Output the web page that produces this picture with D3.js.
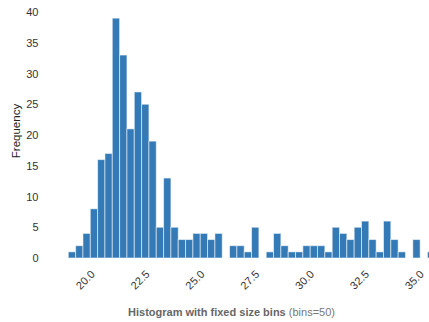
<!DOCTYPE html>
<html>
<head>
<meta charset="utf-8">
<script src="https://cdn.jsdelivr.net/npm/d3@7"></script>
<style>
  html, body { margin: 0; padding: 0; background: #fff; overflow: hidden; }
  svg { display: block; font-family: Arial, "Liberation Sans", Helvetica, sans-serif; }
</style>
</head>
<body>
<svg id="chart" width="429" height="322"></svg>
<script>
// ---- data ----
const binMin = 18.78;
const binMax = 35.49;
const counts = [1, 2, 4, 8, 16, 17, 39, 33, 21, 27, 25, 19, 5, 13, 5, 3, 3, 4, 4, 3,
                4, 0, 2, 2, 1, 5, 0, 1, 4, 2, 1, 1, 2, 2, 2, 1, 5, 4, 3, 5,
                6, 3, 1, 6, 3, 1, 0, 3, 0, 1];
const xTicks = [20.0, 22.5, 25.0, 27.5, 30.0, 32.5, 35.0];
const yTicks = [0, 5, 10, 15, 20, 25, 30, 35, 40];
const yLabel = "Frequency";
const titleBold = "Histogram with fixed size bins";
const titleNormal = " (bins=50)";

// ---- build bins ----
const step = (binMax - binMin) / counts.length;
const bins = counts.map((c, i) => ({ x0: binMin + i * step, x1: binMin + (i + 1) * step, count: c }));

const svg = d3.select("#chart");
const x = d3.scaleLinear().domain([binMin, binMax]).range([68.3, 434.8]);
const y = d3.scaleLinear().domain([0, 40]).range([258, 12]);

// bars
svg.append("g")
  .selectAll("rect")
  .data(bins.filter(d => d.count > 0))
  .join("rect")
  .attr("x", d => x(d.x0))
  .attr("width", d => x(d.x1) - x(d.x0))
  .attr("y", d => y(d.count))
  .attr("height", d => y(0) - y(d.count))
  .attr("fill", "#337ab7")
  .attr("stroke", "#ffffff")
  .attr("stroke-opacity", 0.55)
  .attr("stroke-width", 1);

// x axis
const gx = svg.append("g")
  .attr("transform", "translate(0,258)")
  .call(d3.axisBottom(x).tickValues(xTicks).tickFormat(d3.format(".1f")).tickSize(0));
gx.select(".domain").remove();
gx.selectAll("text")
  .attr("x", 0).attr("y", 0).attr("dy", 0)
  .attr("transform", "translate(0,17) rotate(-45)")
  .attr("text-anchor", "end")
  .attr("fill", "#333")
  .style("font-size", "11px")
  .style("font-family", "Arial, 'Liberation Sans', sans-serif");

// y axis
const gy = svg.append("g")
  .attr("transform", "translate(38.5,0)")
  .call(d3.axisLeft(y).tickValues(yTicks).tickSize(0).tickPadding(0));
gy.select(".domain").remove();
gy.selectAll("text")
  .attr("fill", "#333")
  .style("font-size", "11px")
  .style("font-family", "Arial, 'Liberation Sans', sans-serif");

// y label
svg.append("text")
  .attr("transform", "translate(20,131) rotate(-90)")
  .attr("text-anchor", "middle")
  .attr("fill", "#222")
  .style("font-size", "11.5px")
  .text(yLabel);

// x title
const t = svg.append("text")
  .attr("x", 231.5)
  .attr("y", 315.5)
  .attr("text-anchor", "middle")
  .style("font-size", "11px");
t.append("tspan").attr("fill", "#666").attr("font-weight", "bold").text(titleBold);
t.append("tspan").attr("fill", "#777").text(titleNormal);
</script>
</body>
</html>
